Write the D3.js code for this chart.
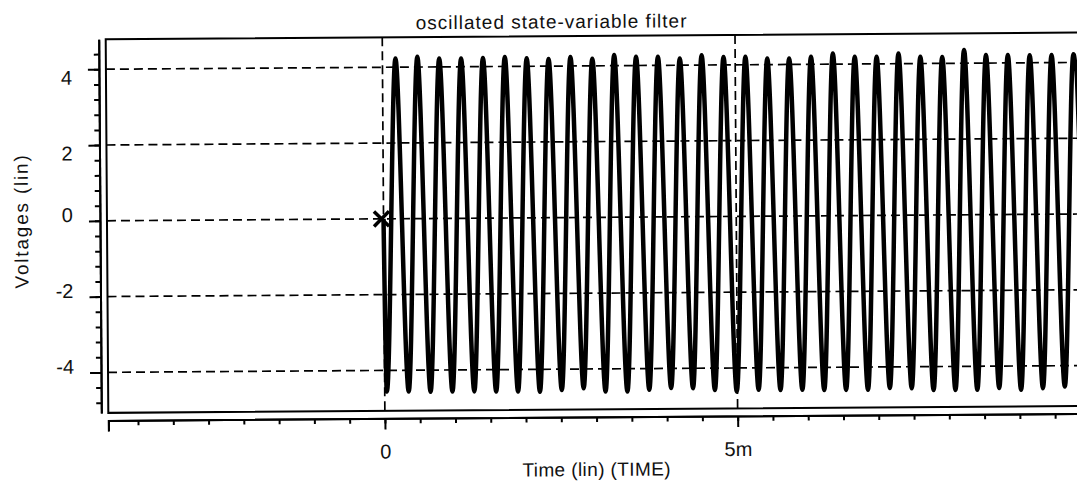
<!DOCTYPE html>
<html>
<head>
<meta charset="utf-8">
<script src="https://d3js.org/d3.v7.min.js"></script>
<style>
  body { margin: 0; background: #fff; }
  svg { display: block; }
  text { font-family: "Liberation Sans", Arial, sans-serif; fill: #111; }
  .axis path, .axis line { stroke: #000; stroke-width: 2; fill: none; }
  .axis text { font-size: 20px; }
  .grid { stroke: #000; stroke-width: 1.7; stroke-dasharray: 9,5; }
  .wave { fill: none; stroke: #000; stroke-width: 4.5; stroke-linejoin: round; }
</style>
</head>
<body>
<script>
// time in ms, voltage in V
var troughTimes = [0.03, 0.34, 0.65, 0.96, 1.27, 1.58, 1.89, 2.20, 2.51, 2.82, 3.13, 3.44, 3.75,
  4.06, 4.37, 4.68, 4.99, 5.30, 5.61, 5.92, 6.23, 6.54, 6.85, 7.16, 7.47, 7.78, 8.09, 8.40,
  8.71, 9.02, 9.33, 9.64, 9.95];
var troughVolts = [-4.56, -4.56, -4.57, -4.57, -4.57, -4.58, -4.58, -4.59, -4.55, -4.51,
  -4.60, -4.60, -4.56, -4.52, -4.53, -4.58, -4.62, -4.58, -4.59, -4.59, -4.60, -4.60,
  -4.60, -4.56, -4.57, -4.62, -4.62, -4.62, -4.58, -4.63, -4.59, -4.55, -4.58];
var peakTimes = [0.185, 0.495, 0.805, 1.115, 1.425, 1.735, 2.045, 2.355, 2.665, 2.975, 3.285,
  3.595, 3.905, 4.215, 4.525, 4.835, 5.145, 5.455, 5.765, 6.075, 6.385, 6.695, 7.005, 7.315,
  7.625, 7.935, 8.245, 8.555, 8.865, 9.175, 9.485, 9.795];
var peakVolts = [4.23, 4.27, 4.22, 4.22, 4.23, 4.25, 4.21, 4.19, 4.24, 4.19, 4.28, 4.23, 4.23,
  4.18, 4.26, 4.21, 4.21, 4.16, 4.16, 4.20, 4.28, 4.19, 4.19, 4.27, 4.18, 4.17, 4.35, 4.21,
  4.21, 4.20, 4.20, 4.22];
var startPoint = [0, 0];

var timeDomain = [-3.92, 9.9];
var voltDomain = [-5.07, 4.79];
var yMajorTicks = [-4, -2, 0, 2, 4];
var xMajorTicks = [0, 5];
var xTickLabels = ["0", "5m"];

var width = 1077, height = 489;

var svg = d3.select("body").append("svg")
  .attr("width", width)
  .attr("height", height);

// the scan is slightly tilted
var g = svg.append("g").attr("transform", "rotate(-0.4, 592, 223)");

var x = d3.scaleLinear().domain(timeDomain).range([107, 1082]);
var y = d3.scaleLinear().domain(voltDomain).range([409.5, 35.9]);

var boxL = x(timeDomain[0]), boxR = x(timeDomain[1]) + 20;
var boxT = y(voltDomain[1]), boxB = y(voltDomain[0]);

g.append("clipPath").attr("id", "plotclip")
  .append("rect")
  .attr("x", boxL).attr("y", boxT)
  .attr("width", boxR - boxL).attr("height", boxB - boxT);

// grid
g.selectAll(".hgrid").data(yMajorTicks).enter().append("line")
  .attr("class", "grid")
  .attr("x1", boxL).attr("x2", boxR)
  .attr("y1", function (d) { return y(d); })
  .attr("y2", function (d) { return y(d); });

g.selectAll(".vgrid").data(xMajorTicks).enter().append("line")
  .attr("class", "grid")
  .attr("x1", function (d) { return x(d); })
  .attr("x2", function (d) { return x(d); })
  .attr("y1", boxT).attr("y2", boxB);

// waveform
var pts = [startPoint];
troughTimes.forEach(function (t, i) { pts.push([t, troughVolts[i]]); });
peakTimes.forEach(function (t, i) { pts.push([t, peakVolts[i]]); });
pts.sort(function (a, b) { return a[0] - b[0]; });

var line = d3.line()
  .x(function (d) { return x(d[0]); })
  .y(function (d) { return y(d[1]); })
  .curve(d3.curveMonotoneX);

g.append("path")
  .datum(pts)
  .attr("class", "wave")
  .attr("clip-path", "url(#plotclip)")
  .attr("d", line);

// start marker
g.append("path")
  .attr("d", d3.symbol(d3.symbolTimes).size(150)())
  .attr("transform", "translate(" + (x(startPoint[0]) - 2) + "," + y(startPoint[1]) + ")")
  .attr("stroke", "#000").attr("stroke-width", 3.5).attr("fill", "none");

// plot box
g.append("rect")
  .attr("x", boxL).attr("y", boxT)
  .attr("width", boxR - boxL).attr("height", boxB - boxT)
  .attr("fill", "none").attr("stroke", "#000").attr("stroke-width", 2);

// y axis
var yMinor = d3.axisLeft(y)
  .tickValues(d3.range(-4.8, 4.5, 0.4))
  .tickSize(5).tickSizeOuter(0).tickFormat("");
g.append("g").attr("class", "axis").attr("transform", "translate(100,0)").call(yMinor);

var yAxis = d3.axisLeft(y)
  .tickValues(yMajorTicks)
  .tickSize(11).tickSizeOuter(0).tickPadding(16)
  .tickFormat(function (d) { return String(d); });
var ya = g.append("g").attr("class", "axis").attr("transform", "translate(100,0)").call(yAxis);
ya.selectAll("text").attr("dy", function (d) { return d > 0 ? "14.7px" : "0.5px"; });

// x axis
var xMinor = d3.axisBottom(x)
  .tickValues(d3.range(-3.5, 9.6, 0.5))
  .tickSize(5).tickSizeOuter(11).tickFormat("");
g.append("g").attr("class", "axis").attr("transform", "translate(0,417)").call(xMinor);

var xAxis = d3.axisBottom(x)
  .tickValues(xMajorTicks)
  .tickSize(11).tickSizeOuter(11)
  .tickFormat(function (d, i) { return xTickLabels[i]; });
var xa = g.append("g").attr("class", "axis").attr("transform", "translate(0,417)").call(xAxis);
xa.selectAll("text").attr("y", 40).attr("dy", 0);

// labels
g.append("text")
  .attr("x", 553).attr("y", 28)
  .attr("text-anchor", "middle")
  .style("font-size", "19px").style("letter-spacing", "1px")
  .text("oscillated state-variable filter");

g.append("text")
  .attr("x", 595).attr("y", 476)
  .attr("text-anchor", "middle")
  .style("font-size", "19px").style("letter-spacing", "0.4px")
  .text("Time (lin) (TIME)");

g.append("text")
  .attr("transform", "translate(28,217) rotate(-90)")
  .attr("text-anchor", "middle")
  .style("font-size", "19px").style("letter-spacing", "1.8px")
  .text("Voltages (lin)");
</script>
</body>
</html>
